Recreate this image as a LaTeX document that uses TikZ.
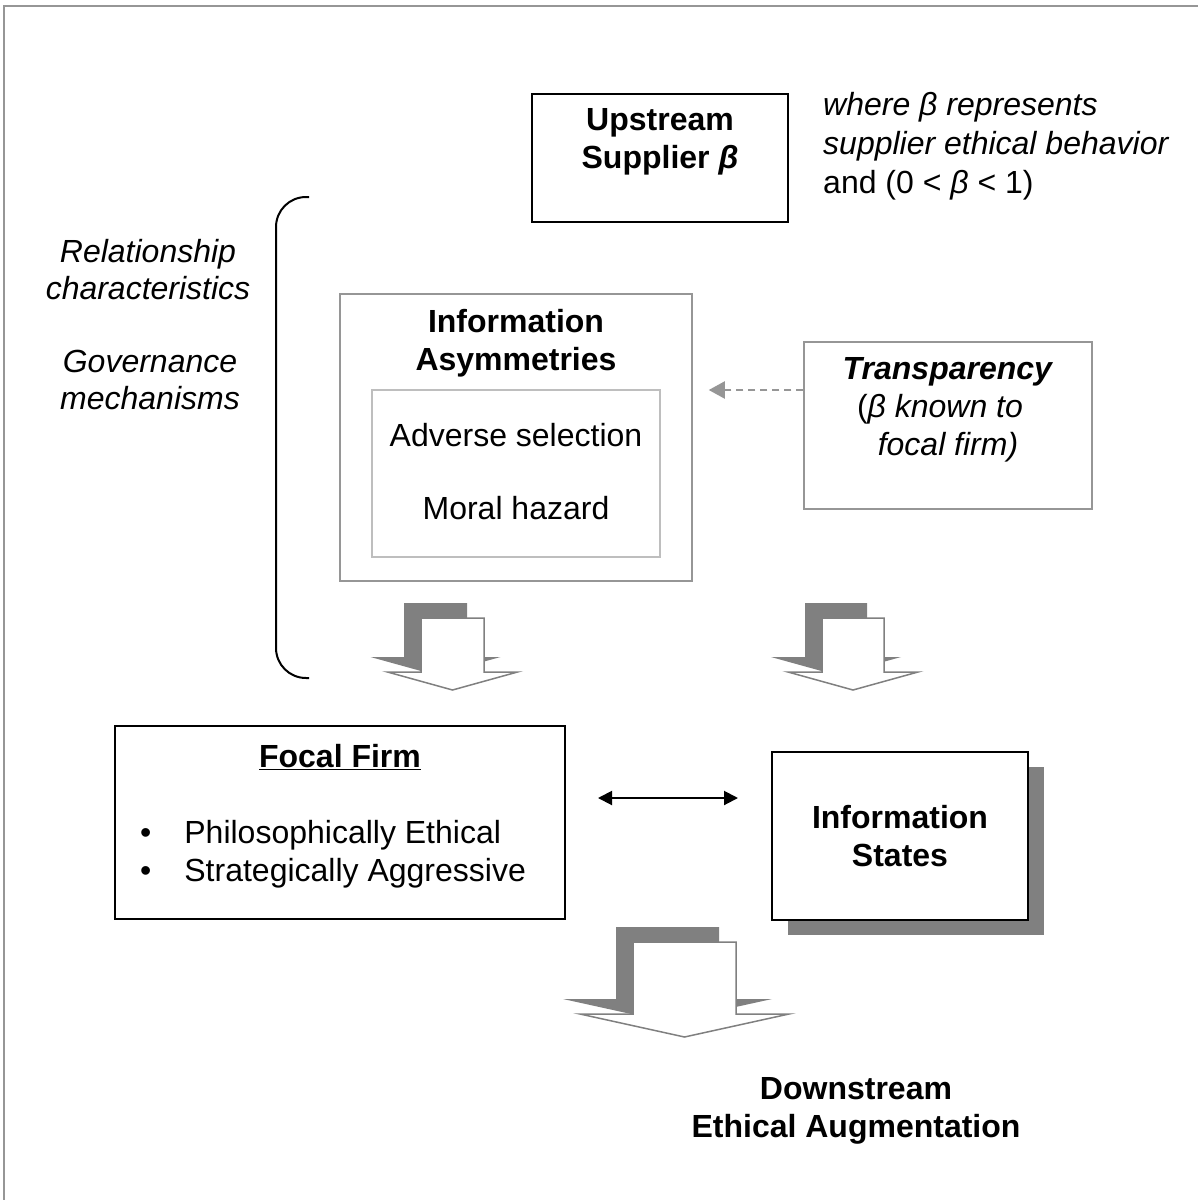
\documentclass[tikz,border=0pt]{standalone}
\usepackage{fontspec}
\setmainfont{Liberation Sans}
\usepackage{tikz}
\usetikzlibrary{arrows.meta, positioning, calc, shadows}
\definecolor{shadowgray}{RGB}{128,128,128}
\definecolor{linegray}{RGB}{150,150,150}
\definecolor{innergray}{RGB}{190,190,190}

% hollow block arrow with its shadow: x, top y, shaft half width, head y, head half width, tip y
\newcommand{\blockarrow}[6]{%
  \begin{scope}[shift={(#1,#2)}]
    \fill[shadowgray, shift={(-17,-15)}] (-#3,0) -- (#3,0) -- (#3,#4) -- (#5,#4) -- (0,#6) -- (-#5,#4) -- (-#3,#4) -- cycle;
    \draw[shadowgray, fill=white, line width=1.5pt] (-#3,0) -- (#3,0) -- (#3,#4) -- (#5,#4) -- (0,#6) -- (-#5,#4) -- (-#3,#4) -- cycle;
  \end{scope}}

\begin{document}
\begin{tikzpicture}[x=1pt, y=-1pt,
  every node/.style={inner sep=0pt, font=\fontsize{32}{38}\selectfont},
  box/.style={rectangle, draw=black, line width=2pt, fill=white},
  graybox/.style={rectangle, draw=linegray, line width=1.5pt},
  txt/.style={align=center, font=\fontsize{32}{38}\selectfont\bfseries},
  side/.style={align=center, font=\fontsize{32}{37}\selectfont\itshape},
  dasharrow/.style={-{Triangle[length=16pt, width=17pt]}, linegray, line width=2pt, dash pattern=on 7pt off 5pt},
  dblarrow/.style={{Triangle[length=14pt, width=14pt]}-{Triangle[length=14pt, width=14pt]}, black, line width=2pt}
]
\useasboundingbox (0,0) rectangle (1198,1200);
\draw[linegray, line width=2pt] (4,1200) -- (4,6) -- (1198,6);

% supplier
\node[box, minimum width=256pt, minimum height=128pt] (supplier) at (660,158) {};
\node[txt] (suppliertext) at (660,142) {Upstream\\Supplier \textit{β}};
\node[anchor=west, align=left, font=\fontsize{32}{39}\selectfont] (note) at (823,146)
  {\textit{where β represents}\\\textit{supplier ethical behavior}\\and (0 < \textit{β} < 1)};

% brace and its labels
\draw[black, line width=2pt, rounded corners=30pt] (309,197) -- (276,197) -- (276,678) -- (309,678);
\node[side] (relchar) at (148,270) {Relationship\\characteristics};
\node[side] (govmech) at (150,380) {Governance\\mechanisms};

% information asymmetries
\node[graybox, minimum width=352pt, minimum height=287pt] (asym) at (516,437.5) {};
\node[txt] (asymtitle) at (516,343) {Information\\Asymmetries};
\node[rectangle, draw=innergray, line width=1.5pt, minimum width=288pt, minimum height=167pt] (inner) at (516,473.5) {};
\node (adverse) at (516,435) {Adverse selection};
\node (moral) at (516,508) {Moral hazard};

% transparency
\node[graybox, minimum width=288pt, minimum height=167pt] (transp) at (948,425.5) {};
\node[align=center] (transptext) at (948,410)
  {\textbf{\textit{Transparency}}\\(\textit{β known to}\hspace{16pt}\null\\\textit{focal firm)}};
\draw[dasharrow, shorten >=16pt] ([yshift=35.5pt]transp.west) -- ([yshift=35.5pt]transp.west -| asym.east);

% block arrows
\blockarrow{452.5}{618}{31.5}{54}{65}{72}
\blockarrow{853}{618}{31}{54}{65}{72}

% focal firm
\node[box, minimum width=450pt, minimum height=193pt] (focal) at (340,822.5) {};
\node[txt] (focaltitle) at (340,757) {\underline{Focal Firm}};
\node[anchor=west, align=left] (bullets) at (140,854)
  {\textbullet\hspace{33pt}Philosophically Ethical\\\textbullet\hspace{33pt}Strategically Aggressive};

% information states
\node[box, txt, minimum width=256pt, minimum height=168pt,
  drop shadow={shadow xshift=16pt, shadow yshift=-15pt, fill=shadowgray, opacity=1}] (states) at (900,836)
  {Information\\States};
\coordinate (dblstart) at ($(focal.east)+(0,-24.5)$);
\draw[dblarrow, shorten <=32pt, shorten >=33pt] (dblstart) -- (dblstart -| states.west);

% downstream
\blockarrow{684.5}{942}{51.5}{72}{104.5}{95}
\node[txt] (downstream) at (856,1111) {Downstream\\Ethical Augmentation};
\end{tikzpicture}
\end{document}
